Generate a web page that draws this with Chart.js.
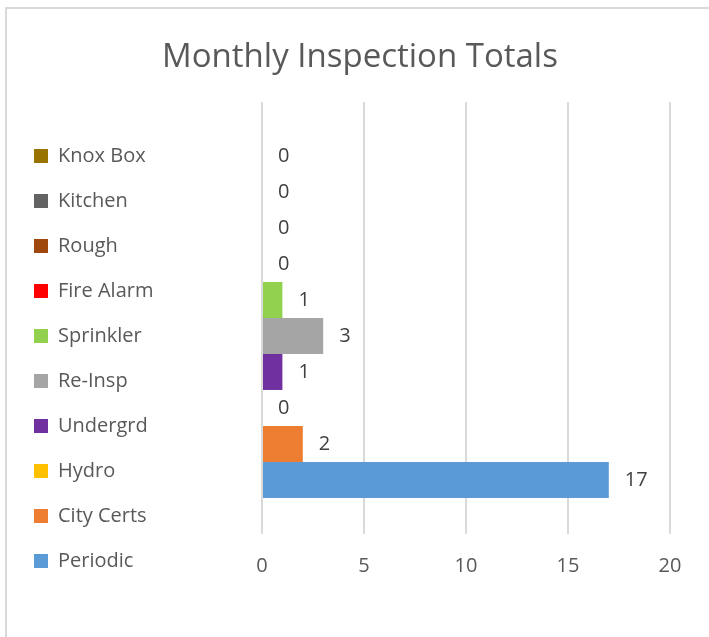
<!DOCTYPE html>
<html>
<head>
<meta charset="utf-8">
<script src="https://cdn.jsdelivr.net/npm/chart.js@4"></script>
<style>
  html, body { margin: 0; padding: 0; background: #fff; overflow: hidden; }
  #frame {
    position: absolute; left: 5px; top: 7px;
    width: 1000px; height: 1000px;
    border: 2px solid #d9d9d9;
  }
  #wrap { position: absolute; left: 0; top: 0; width: 709px; height: 637px; }
</style>
</head>
<body>
<div id="frame"></div>
<div id="wrap"><canvas id="inspChart"></canvas></div>
<script>
// values (Excel order, Periodic first)
const categories = [''];
const seriesNames = ['Periodic', 'City Certs', 'Hydro', 'Undergrd', 'Re-Insp', 'Sprinkler', 'Fire Alarm', 'Rough', 'Kitchen', 'Knox Box'];
const seriesValues = [17, 2, 0, 1, 3, 1, 0, 0, 0, 0];
const seriesColors = ['#5B9BD5', '#ED7D31', '#FFC000', '#7030A0', '#A5A5A5', '#92D050', '#FF0000', '#9E480E', '#636363', '#997300'];

const FONT = "'Open Sans', 'DejaVu Sans', sans-serif";
const TEXT = '#595959';

// chart.js stacks bars top-down by dataset index, so feed them reversed
const datasets = [];
for (let i = seriesNames.length - 1; i >= 0; i--) {
    datasets.push({
        label: seriesNames[i],
        data: [seriesValues[i]],
        backgroundColor: seriesColors[i],
        borderWidth: 0
    });
}

// value labels just past the bar end
const valueLabels = {
    id: 'valueLabels',
    afterDatasetsDraw(chart) {
        const ctx = chart.ctx;
        ctx.save();
        ctx.font = '20px ' + FONT;
        ctx.fillStyle = '#404040';
        ctx.textAlign = 'left';
        ctx.textBaseline = 'middle';
        chart.data.datasets.forEach((ds, i) => {
            const meta = chart.getDatasetMeta(i);
            meta.data.forEach((bar, j) => {
                ctx.fillText(String(ds.data[j]), bar.x + 16, bar.y);
            });
        });
        ctx.restore();
    }
};

// excel centres the title a bit right of the canvas middle
const titleShift = {
    id: 'titleShift',
    afterLayout(chart) {
        if (chart.titleBlock) chart.titleBlock.left += 41;
    }
};

new Chart(document.getElementById('inspChart'), {
    type: 'bar',
    data: { labels: categories, datasets: datasets },
    options: {
        indexAxis: 'y',
        responsive: true,
        maintainAspectRatio: false,
        animation: false,
        layout: { padding: { left: 9, right: 39, top: 0, bottom: 41 } },
        datasets: {
            bar: { categoryPercentage: 0.833, barPercentage: 1 }
        },
        scales: {
            x: {
                min: 0,
                max: 20,
                ticks: { stepSize: 5, color: TEXT, font: { family: FONT, size: 20 }, padding: 20 },
                grid: { color: '#d9d9d9', lineWidth: 2, drawTicks: false },
                border: { display: false },
                afterFit(scale) { scale.height = 62; }
            },
            y: {
                ticks: { display: false },
                grid: { display: false },
                border: { display: false },
                afterFit(scale) {
                    const lg = scale.chart.legend;
                    scale.width = 262 - 9 - (lg ? lg.width : 0);
                }
            }
        },
        plugins: {
            title: {
                display: true,
                text: 'Monthly Inspection Totals',
                color: TEXT,
                font: { family: FONT, size: 33, weight: 'normal' },
                padding: { top: 37.5, bottom: 24.9 }
            },
            legend: {
                position: 'left',
                align: 'end',
                labels: {
                    color: TEXT,
                    font: { family: FONT, size: 20 },
                    boxWidth: 14,
                    boxHeight: 14,
                    padding: 25
                }
            },
            tooltip: { enabled: false }
        }
    },
    plugins: [valueLabels, titleShift]
});
</script>
</body>
</html>
